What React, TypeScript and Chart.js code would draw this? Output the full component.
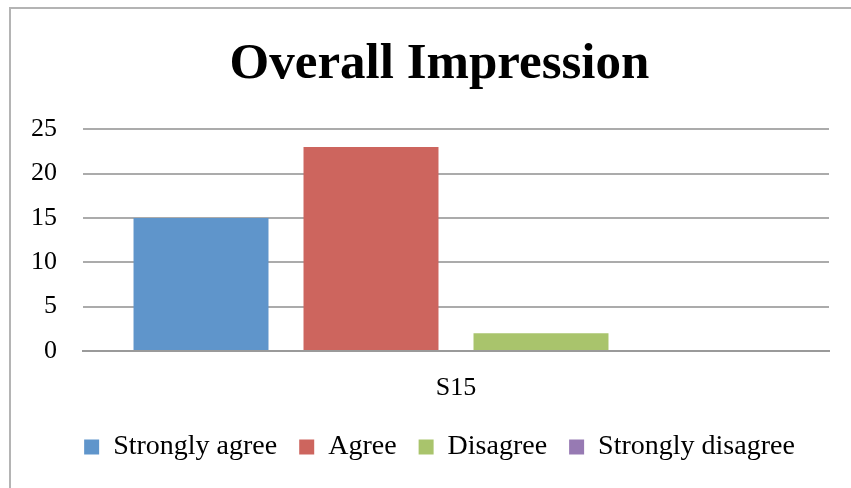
import React, { useEffect, useRef } from "react";
import { Chart, registerables } from "chart.js";

Chart.register(...registerables);

// Survey responses for the single question group
const categories = ["S15"];
const seriesNames = ["Strongly agree", "Agree", "Disagree", "Strongly disagree"];
const stronglyAgree = [15];
const agree = [23];
const disagree = [2];
const stronglyDisagree = [0];
const seriesColors = ["#5f95cb", "#cd655e", "#a9c46c", "#977ab3"];
const yTicks = { min: 0, max: 25, step: 5 };

const FONT = "'Liberation Serif', 'Times New Roman', serif";

export default function App() {
  const canvasRef = useRef<HTMLCanvasElement | null>(null);

  useEffect(() => {
    const canvas = canvasRef.current;
    if (!canvas) return;
    const values = [stronglyAgree, agree, disagree, stronglyDisagree];
    const chart = new Chart(canvas, {
      type: "bar",
      data: {
        labels: categories,
        datasets: seriesNames.map((name, i) => ({
          label: name,
          data: values[i],
          backgroundColor: seriesColors[i],
          borderWidth: 0,
          barPercentage: 0.794,
          categoryPercentage: 0.9115,
        })),
      },
      options: {
        responsive: false,
        animation: false,
        devicePixelRatio: 1,
        layout: { padding: { left: 28, right: 0, top: 0, bottom: 17 } },
        plugins: {
          title: {
            display: true,
            text: "Overall Impression",
            color: "#000",
            font: { family: FONT, size: 51, weight: "bold", lineHeight: 1.2 },
            padding: { top: 34, bottom: 34 },
          },
          legend: {
            position: "bottom",
            labels: {
              boxWidth: 15,
              boxHeight: 15,
              padding: 22,
              color: "#000",
              font: { family: FONT, size: 28 },
            },
          },
          tooltip: { enabled: false },
        },
        scales: {
          x: {
            grid: { display: false, drawTicks: false },
            border: { display: true, color: "#9a9a9a", width: 2 },
            ticks: { color: "#000", font: { family: FONT, size: 26 }, padding: 22 },
            afterFit: (s: any) => {
              s.height = 60;
            },
          },
          y: {
            min: yTicks.min,
            max: yTicks.max,
            grid: { color: "#ababab", lineWidth: 2, drawTicks: false },
            border: { display: false },
            ticks: {
              stepSize: yTicks.step,
              color: "#000",
              font: { family: FONT, size: 26 },
              padding: 26,
            },
            afterFit: (s: any) => {
              s.width = 55;
            },
          },
          // empty right-hand gutter so the plot ends short of the canvas edge
          gutter: {
            type: "linear",
            position: "right",
            display: true,
            grid: { display: false, drawTicks: false },
            border: { display: false },
            ticks: { display: false },
            afterFit: (s: any) => {
              s.width = 22;
            },
          },
        },
      },
    });
    return () => chart.destroy();
  }, []);

  return (
    <div
      style={{
        position: "fixed",
        left: 0,
        top: 0,
        width: 851,
        height: 488,
        overflow: "hidden",
        background: "#fff",
      }}
    >
      <div
        style={{
          position: "absolute",
          left: 9,
          top: 7,
          width: 1000,
          height: 1000,
          borderLeft: "2px solid #b4b4b4",
          borderTop: "2px solid #b4b4b4",
        }}
      />
      <canvas
        ref={canvasRef}
        width={851}
        height={488}
        style={{ position: "absolute", left: 0, top: 0, width: 851, height: 488, display: "block" }}
      />
    </div>
  );
}
